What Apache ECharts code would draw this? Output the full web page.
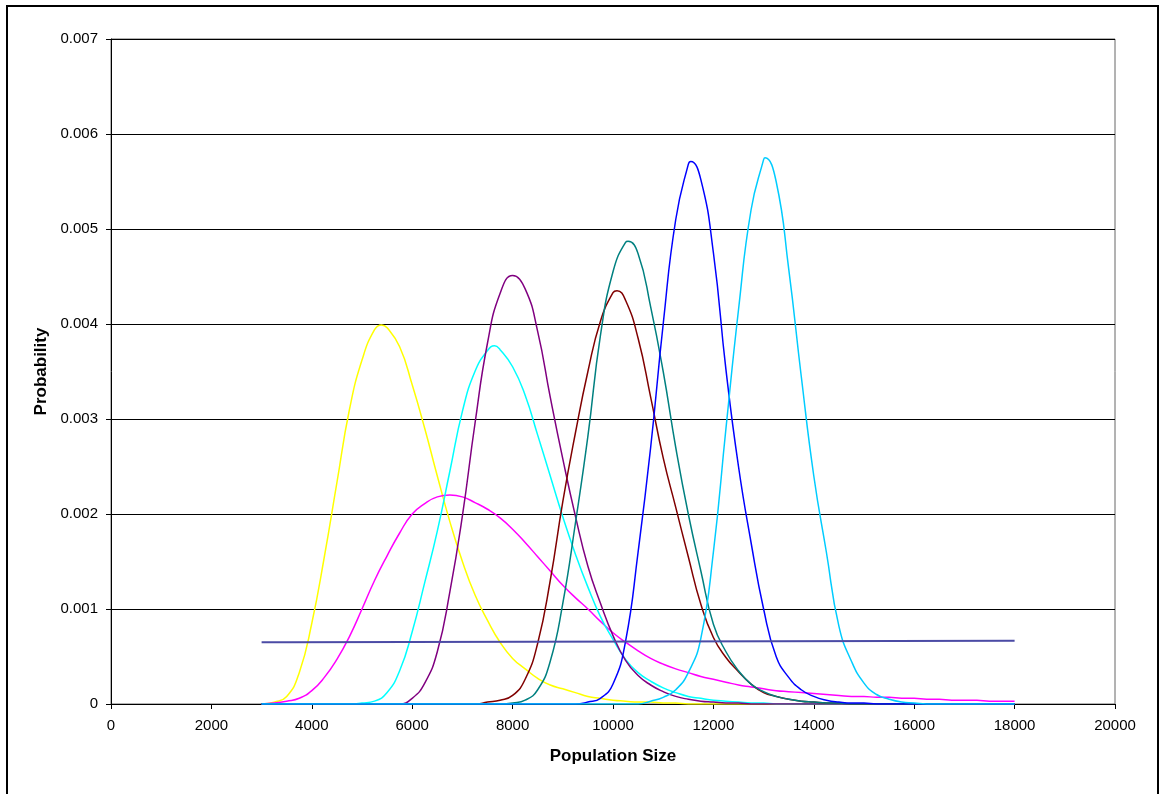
<!DOCTYPE html>
<html>
<head>
<meta charset="utf-8">
<script src="https://cdn.jsdelivr.net/npm/echarts@6/dist/echarts.min.js"></script>
<style>
html,body{margin:0;padding:0;background:#fff;}
#chart{width:1160px;height:794px;}
</style>
</head>
<body>
<div id="chart"></div>
<script>
// Population sizes (x values) shared by the curves
const population = [3000,3250,3500,3750,4000,4250,4500,4750,5000,5250,5500,5750,6000,6250,6500,6750,7000,7250,7500,7750,8000,8250,8500,8750,9000,9250,9500,9750,10000,10250,10500,10750,11000,11250,11500,11750,12000,12250,12500,12750,13000,13250,13500,13750,14000,14250,14500,14750,15000,15250,15500,15750,16000,16250,16500,16750,17000,17250,17500,17750,18000];

const yellowVals = [0,0.00002,0.00008,0.00033,0.00085,0.00155,0.00233,0.00310,0.00362,0.00394,0.00396,0.00376,0.00336,0.00290,0.00240,0.00192,0.00150,0.00115,0.00088,0.00065,0.00048,0.00037,0.00027,0.00020,0.00016,0.00012,0.00008,0.00006,0.00004,0.00003,0.00002,0.00002,0.00001,0.00001,0,0,0,0,0,0,0,0,0,0,0,0,0,0,0,0,0,0,0,0,0,0,0,0,0,0,0];
const magentaVals = [0,0.00001,0.00003,0.00006,0.00014,0.00028,0.00047,0.00071,0.00100,0.00130,0.00156,0.00180,0.00200,0.00211,0.00218,0.00220,0.00218,0.00212,0.00205,0.00196,0.00184,0.00170,0.00155,0.00140,0.00125,0.00112,0.00100,0.00087,0.00075,0.00065,0.00056,0.00048,0.00042,0.00037,0.00033,0.00029,0.00026,0.00023,0.00020,0.00018,0.00016,0.00014,0.00013,0.00012,0.00011,0.00010,0.00009,0.00008,0.00008,0.00007,0.00007,0.00006,0.00006,0.00005,0.00005,0.00004,0.00004,0.00004,0.00003,0.00003,0.00003];
const cyanVals = [0,0,0,0,0,0,0,0,0.00001,0.00003,0.00012,0.00035,0.00076,0.00128,0.00182,0.00245,0.00308,0.00350,0.00372,0.00373,0.00355,0.00325,0.00283,0.00240,0.00197,0.00158,0.00123,0.00092,0.00068,0.00047,0.00033,0.00024,0.00017,0.00012,0.00008,0.00006,0.00004,0.00003,0.00002,0.00001,0.00001,0,0,0,0,0,0,0,0,0,0,0,0,0,0,0,0,0,0,0,0];
const purpleVals = [0,0,0,0,0,0,0,0,0,0,0,0,0.00006,0.00022,0.00055,0.00118,0.00198,0.00295,0.00380,0.00432,0.00451,0.00437,0.00392,0.00323,0.00258,0.00198,0.00145,0.00106,0.00072,0.00046,0.00030,0.00020,0.00013,0.00008,0.00005,0.00003,0.00002,0.00001,0.00001,0,0,0,0,0,0,0,0,0,0,0,0,0,0,0,0,0,0,0,0,0,0];
const darkRedVals = [0,0,0,0,0,0,0,0,0,0,0,0,0,0,0,0,0,0,0.00002,0.00004,0.00009,0.00026,0.00064,0.00130,0.00213,0.00285,0.00350,0.00403,0.00433,0.00425,0.00385,0.00323,0.00259,0.00207,0.00155,0.00105,0.00070,0.00049,0.00034,0.00021,0.00012,0.00008,0.00005,0.00003,0.00002,0.00001,0.00001,0,0,0,0,0,0,0,0,0,0,0,0,0,0];
const tealVals = [0,0,0,0,0,0,0,0,0,0,0,0,0,0,0,0,0,0,0,0,0.00001,0.00004,0.00015,0.00045,0.00106,0.00190,0.00282,0.00388,0.00455,0.00486,0.00474,0.00418,0.00350,0.00270,0.00200,0.00140,0.00084,0.00055,0.00035,0.00021,0.00013,0.00008,0.00005,0.00003,0.00002,0.00001,0.00001,0,0,0,0,0,0,0,0,0,0,0,0,0,0];
const blueVals = [0,0,0,0,0,0,0,0,0,0,0,0,0,0,0,0,0,0,0,0,0,0,0,0,0,0,0.00002,0.00006,0.00021,0.00066,0.00160,0.00270,0.00400,0.00510,0.00568,0.00552,0.00475,0.00352,0.00250,0.00170,0.00100,0.00050,0.00028,0.00015,0.00008,0.00004,0.00002,0.00001,0.00001,0,0,0,0,0,0,0,0,0,0,0,0];
const skyVals = [0,0,0,0,0,0,0,0,0,0,0,0,0,0,0,0,0,0,0,0,0,0,0,0,0,0,0,0,0,0,0,0.00003,0.00007,0.00015,0.00033,0.00069,0.00160,0.00290,0.00415,0.00520,0.00573,0.00550,0.00458,0.00345,0.00240,0.00160,0.00082,0.00045,0.00022,0.00010,0.00005,0.00002,0.00001,0,0,0,0,0,0,0,0];

// Peak positions: [population, probability]
const yellowPeak = [5390, 0.00399];
const cyanPeak = [7640, 0.00377];
const darkRedPeak = [10080, 0.00435];
const tealPeak = [10300, 0.00487];
const bluePeak = [11550, 0.00571];
const skyPeak = [13030, 0.00575];

// Flat (uniform) line
const navyX = [3000,3500,3500,18000];
const navyVals = [0.00065,0.00065,0.000667,0.000667];

function pair(xs, ys){ return xs.map((x,i)=>[x, ys[i]]); }
function withPeak(pts, peak){
  if(!peak) return pts;
  return pts.concat([peak]).sort((a,b)=>a[0]-b[0]);
}

const curves = [
  {name:'A', color:'#FFFF00', vals:yellowVals, peak:yellowPeak},
  {name:'B', color:'#FF00FF', vals:magentaVals},
  {name:'C', color:'#00FFFF', vals:cyanVals, peak:cyanPeak},
  {name:'D', color:'#800080', vals:purpleVals},
  {name:'E', color:'#800000', vals:darkRedVals, peak:darkRedPeak},
  {name:'F', color:'#008080', vals:tealVals, peak:tealPeak},
  {name:'G', color:'#0000FF', vals:blueVals, peak:bluePeak},
  {name:'H', color:'#00CCFF', vals:skyVals, peak:skyPeak}
];

const series = curves.map(c => ({
  name: c.name, type:'line', data: withPeak(pair(population, c.vals), c.peak),
  showSymbol:false, symbol:'none', smooth:0.5,
  lineStyle:{color:c.color, width:1.5}, itemStyle:{color:c.color},
  animation:false, z:3
}));
series.push({
  name:'Uniform', type:'line', data: pair(navyX, navyVals),
  showSymbol:false, symbol:'none',
  lineStyle:{color:'#4B4BA5', width:2}, itemStyle:{color:'#4B4BA5'},
  animation:false, z:4
});

const chart = echarts.init(document.getElementById('chart'), null, {renderer:'canvas'});
chart.setOption({
  backgroundColor:'#fff',
  animation:false,
  textStyle:{fontFamily:'Liberation Sans, Arial, sans-serif'},
  grid:{left:111, right:45, top:39, bottom:90, show:true, borderColor:'#666', borderWidth:1, backgroundColor:'transparent'},
  graphic:[{type:'rect', shape:{x:7, y:6, width:1151, height:800}, style:{fill:'none', stroke:'#000', lineWidth:2}, silent:true}],
  xAxis:{
    type:'value', min:0, max:20000, interval:2000,
    name:'Population Size', nameLocation:'middle', nameGap:44,
    nameTextStyle:{fontSize:17, fontWeight:'bold', color:'#000', fontFamily:'Liberation Sans, Arial, sans-serif'},
    axisLine:{show:true, onZero:false, lineStyle:{color:'#000', width:1}},
    axisTick:{show:true, length:5, lineStyle:{color:'#000'}},
    axisLabel:{fontSize:15, color:'#000', margin:14, formatter:v=>String(v)},
    splitLine:{show:false}
  },
  yAxis:{
    type:'value', min:0, max:0.007, interval:0.001,
    name:'Probability', nameLocation:'middle', nameGap:60, nameRotate:90,
    nameTextStyle:{fontSize:17, fontWeight:'bold', color:'#000', fontFamily:'Liberation Sans, Arial, sans-serif'},
    axisLine:{show:true, lineStyle:{color:'#000', width:1}},
    axisTick:{show:true, length:5, lineStyle:{color:'#000'}},
    axisLabel:{fontSize:15, color:'#000', margin:13, formatter:v=> v===0 ? '0' : v.toFixed(3)},
    splitLine:{show:true, lineStyle:{color:'#000', width:1}}
  },
  series: series
});
</script>
</body>
</html>
